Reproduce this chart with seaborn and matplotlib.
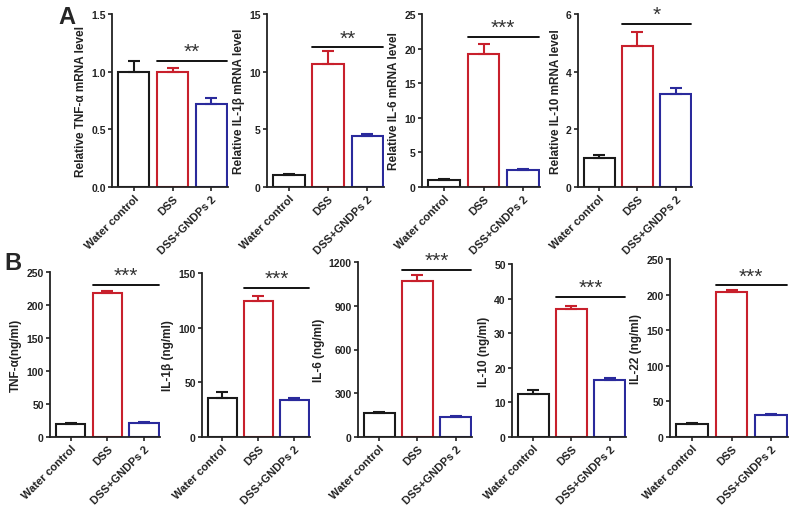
import matplotlib
matplotlib.use("Agg")
import matplotlib.pyplot as plt
import seaborn as sns
import pandas as pd

sns.set_style("ticks")
plt.rcParams['font.family'] = ['Liberation Sans', 'DejaVu Sans']

categories = ["Water control", "DSS", "DSS+GNDPs 2"]
bar_colors = ["#1a1a1a", "#c8202c", "#2a2a9c"]

# Panel A (relative mRNA level)
tnf_mrna = [1.0, 1.0, 0.72]
tnf_mrna_err = [0.09, 0.03, 0.05]
il1b_mrna = [1.0, 10.7, 4.4]
il1b_mrna_err = [0.1, 1.1, 0.2]
il6_mrna = [1.0, 19.2, 2.4]
il6_mrna_err = [0.1, 1.5, 0.2]
il10_mrna = [1.0, 4.88, 3.22]
il10_mrna_err = [0.1, 0.5, 0.22]

# Panel B (ng/ml)
tnf_prot = [20, 218, 21]
tnf_prot_err = [1, 3, 1]
il1b_prot = [36, 124, 34]
il1b_prot_err = [5, 5, 2]
il6_prot = [165, 1070, 135]
il6_prot_err = [8, 40, 6]
il10_prot = [12.5, 37, 16.4]
il10_prot_err = [1.2, 1.0, 0.7]
il22_prot = [18, 204, 31]
il22_prot_err = [1.5, 3, 2]

ylabels = ["Relative TNF-\u03b1 mRNA level", "Relative IL-1\u03b2 mRNA level",
           "Relative IL-6 mRNA level", "Relative IL-10 mRNA level",
           "TNF-\u03b1(ng/ml)", "IL-1\u03b2 (ng/ml)", "IL-6 (ng/ml)",
           "IL-10 (ng/ml)", "IL-22 (ng/ml)"]
stars = ["**", "**", "***", "*", "***", "***", "***", "***", "***"]
sig_levels = [1.09, 12.1, 21.7, 5.65, 230, 136, 1145, 40.5, 213]
yticks_list = [[0.0, 0.5, 1.0, 1.5], [0, 5, 10, 15], [0, 5, 10, 15, 20, 25], [0, 2, 4, 6],
               [0, 50, 100, 150, 200, 250], [0, 50, 100, 150], [0, 300, 600, 900, 1200],
               [0, 10, 20, 30, 40, 50], [0, 50, 100, 150, 200, 250]]
values_list = [tnf_mrna, il1b_mrna, il6_mrna, il10_mrna,
               tnf_prot, il1b_prot, il6_prot, il10_prot, il22_prot]
errors_list = [tnf_mrna_err, il1b_mrna_err, il6_mrna_err, il10_mrna_err,
               tnf_prot_err, il1b_prot_err, il6_prot_err, il10_prot_err, il22_prot_err]

W, H = 800, 510
def rect(x0, x1, ytop, ybot):
    return [x0 / W, 1 - ybot / H, (x1 - x0) / W, (ybot - ytop) / H]

rects = [rect(112, 228, 15, 188), rect(267, 384, 15, 188), rect(422, 540, 15, 188),
         rect(578, 692, 15, 188),
         rect(50, 160, 273, 438), rect(202, 310, 274, 438), rect(358, 472, 263, 438),
         rect(512, 626, 265, 438), rect(670, 788, 260, 438)]

fig = plt.figure(figsize=(8, 5.1), dpi=100)

for i in range(9):
    ax = fig.add_axes(rects[i])
    vals = values_list[i]
    errs = errors_list[i]
    df = pd.DataFrame({"group": categories, "value": vals})
    sns.barplot(data=df, x="group", y="value", ax=ax, color="white",
                width=0.8, errorbar=None, linewidth=1.5, edgecolor="black",
                saturation=1)
    for p, c in zip(ax.patches, bar_colors):
        p.set_facecolor("white")
        p.set_edgecolor(c)
    for j in range(3):
        ax.errorbar([j], [vals[j]], yerr=[[0], [errs[j]]], fmt="none",
                    ecolor=bar_colors[j], capsize=4.5, elinewidth=1.5,
                    capthick=1.5, zorder=1)
    yt = yticks_list[i]
    ax.set_ylim(0, yt[-1])
    ax.set_yticks(yt)
    if i == 0:
        ax.set_yticklabels([f"{v:.1f}" for v in yt])
    ax.set_xlim(-0.56, 2.43)
    ax.set_xlabel("")
    ax.set_ylabel(ylabels[i], fontsize=8.5, fontweight="bold", labelpad=3,
                  color="#222222")
    ax.set_xticks(range(3))
    ax.set_xticklabels(categories, rotation=45, ha="right",
                       rotation_mode="anchor", fontsize=8, fontweight="bold",
                       color="#222222")
    for lab in ax.get_yticklabels():
        lab.set_fontweight("bold")
        lab.set_fontsize(7.5)
        lab.set_color("#222222")
    sns.despine(ax=ax)
    for s in ["left", "bottom"]:
        ax.spines[s].set_linewidth(1.3)
        ax.spines[s].set_color("#222222")
    ax.tick_params(axis="both", direction="out", length=3, width=1.2, pad=1.5,
                   color="#222222")
    yl = sig_levels[i]
    ax.plot([0.6, 2.4], [yl, yl], color="black", lw=1.3, clip_on=False)
    ax.text(1.5, yl, stars[i], ha="center", va="bottom", fontsize=15,
            color="#333333", clip_on=False)

fig.text(58 / W, 1 - 18 / H, "A", fontsize=17, fontweight="bold", ha="left", va="center")
fig.text(4 / W, 1 - 264 / H, "B", fontsize=17, fontweight="bold", ha="left", va="center")

fig.savefig("out.png", dpi=100)
